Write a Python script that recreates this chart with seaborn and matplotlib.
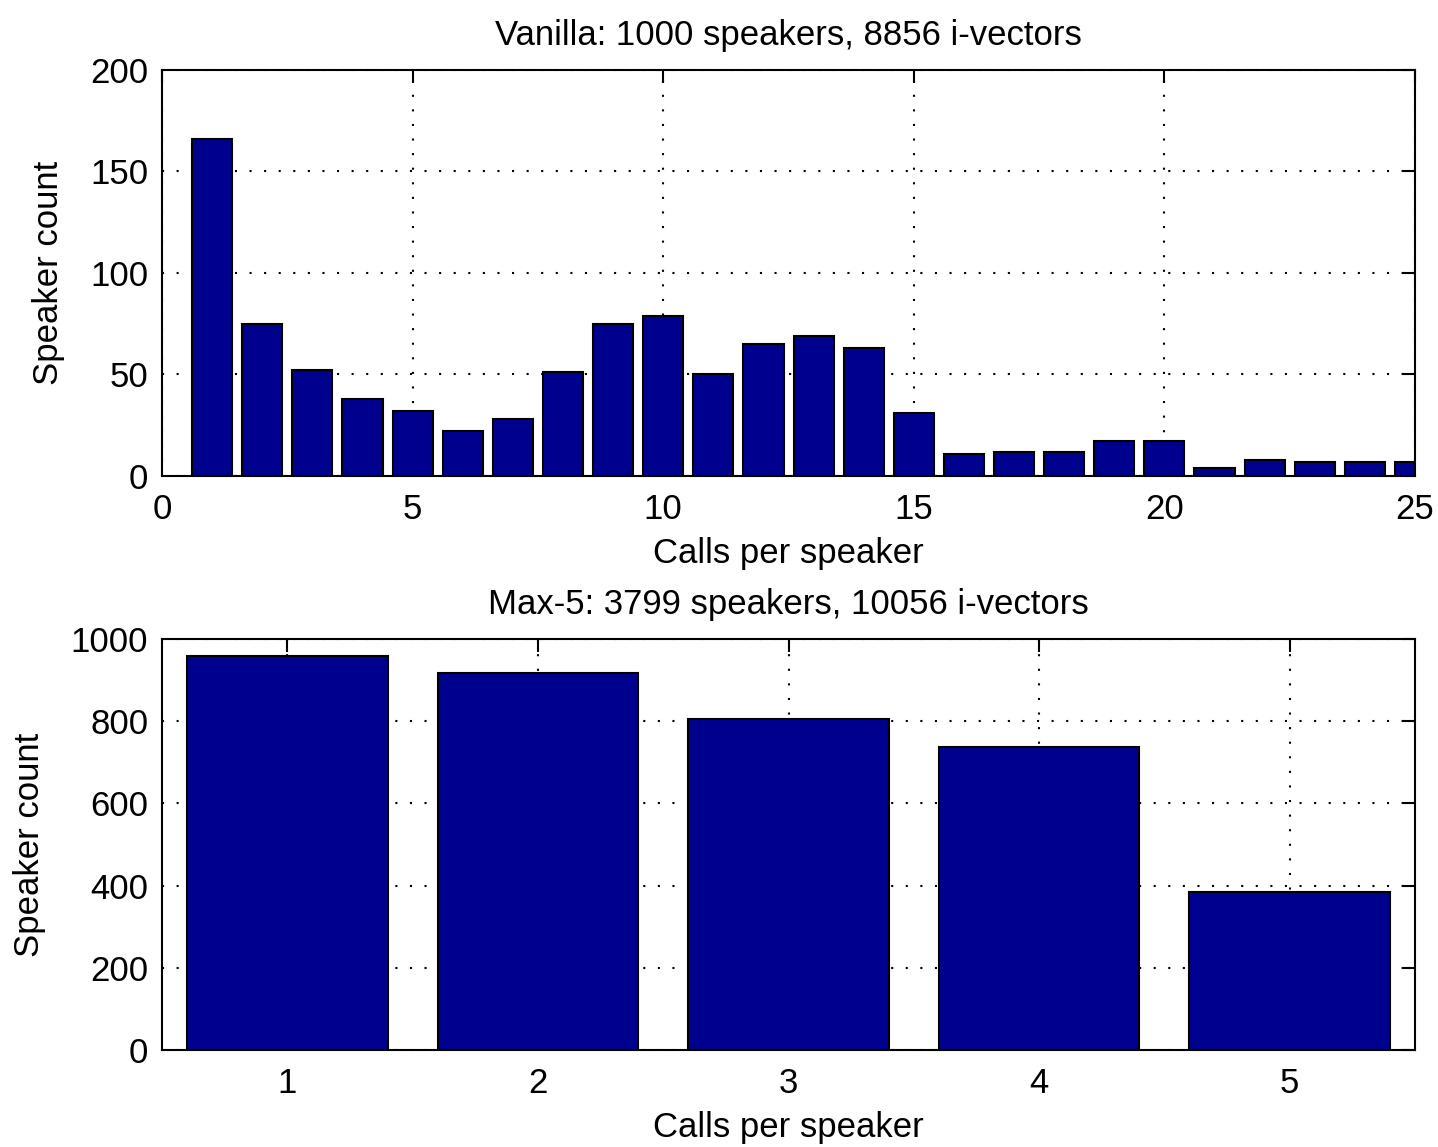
import matplotlib
matplotlib.use("Agg")
import matplotlib.pyplot as plt
import seaborn as sns

# speaker counts per number of calls
vanilla_calls = list(range(1, 26))
vanilla_counts = [166, 75, 52, 38, 32, 22, 28, 51, 75, 79, 50, 65, 69, 63, 31,
                  11, 12, 12, 17, 17, 4, 8, 7, 7, 7]

max5_calls = [1, 2, 3, 4, 5]
max5_counts = [958, 916, 804, 736, 385]

vanilla_title = "Vanilla: 1000 speakers, 8856 i-vectors"
max5_title = "Max-5: 3799 speakers, 10056 i-vectors"

bar_color = "#00008F"

sns.set_theme(style="white", rc={
    "axes.edgecolor": "black",
    "axes.linewidth": 1.5,
    "xtick.direction": "in",
    "ytick.direction": "in",
    "xtick.top": True,
    "ytick.right": True,
    "xtick.major.size": 9,
    "ytick.major.size": 9,
    "xtick.major.width": 1.5,
    "ytick.major.width": 1.5,
    "xtick.color": "black",
    "ytick.color": "black",
    "text.color": "black",
    "axes.labelcolor": "black",
})
plt.rcParams["font.family"] = ["Liberation Sans", "DejaVu Sans"]
fs = 25

fig = plt.figure(figsize=(14.38, 11.47), dpi=100)
ax1 = fig.add_axes([0.1127, 0.585, 0.8713, 0.354])
ax2 = fig.add_axes([0.1127, 0.0846, 0.8713, 0.3584])


def style_axis(ax, title):
    ax.set_axisbelow(True)
    ax.grid(True, color="black", linestyle=(0, (1, 6)), linewidth=1.5)
    ax.set_title(title, fontsize=fs, pad=18)
    ax.set_xlabel("Calls per speaker", fontsize=fs, labelpad=8)
    ax.set_ylabel("Speaker count", fontsize=fs, labelpad=18)
    ax.tick_params(axis="x", labelsize=fs, pad=12)
    ax.tick_params(axis="y", labelsize=fs, pad=10)
    for s in ax.spines.values():
        s.set_visible(True)
        s.set_zorder(5)


sns.barplot(x=vanilla_calls, y=vanilla_counts, native_scale=True, width=0.8,
            color=bar_color, saturation=1, edgecolor="black", linewidth=1.5,
            errorbar=None, ax=ax1)
ax1.set_xlim(0, 25)
ax1.set_ylim(0, 200)
ax1.set_xticks(range(0, 26, 5))
ax1.set_yticks(range(0, 201, 50))
style_axis(ax1, vanilla_title)

sns.barplot(x=max5_calls, y=max5_counts, native_scale=True, width=0.8,
            color=bar_color, saturation=1, edgecolor="black", linewidth=1.5,
            errorbar=None, ax=ax2)
ax2.set_xlim(0.5, 5.5)
ax2.set_ylim(0, 1000)
ax2.set_xticks(max5_calls)
ax2.set_yticks(range(0, 1001, 200))
style_axis(ax2, max5_title)

fig.savefig("out.png", dpi=100)
